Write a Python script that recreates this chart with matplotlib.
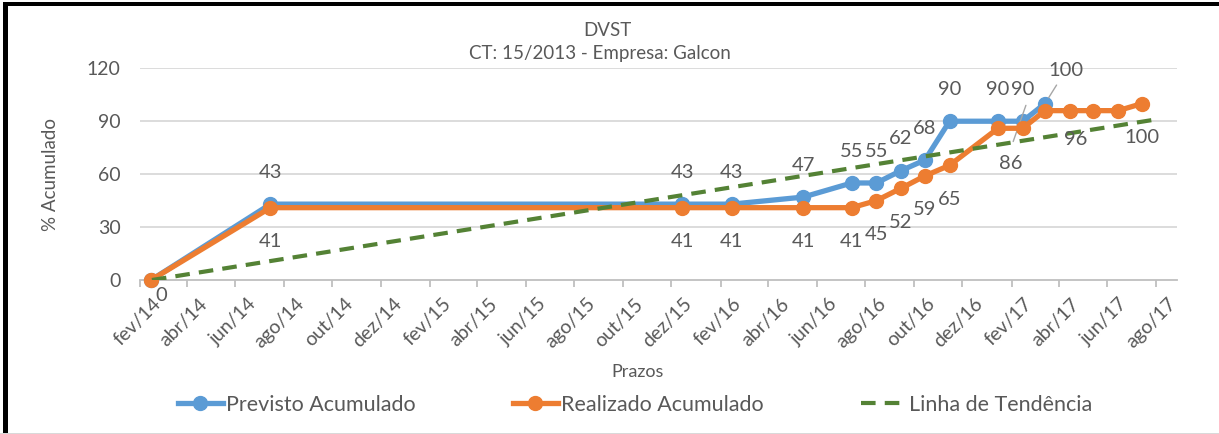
import matplotlib
matplotlib.use("Agg")
import matplotlib.pyplot as plt
import matplotlib.dates as mdates
from matplotlib.patches import Rectangle
import pandas as pd

plt.rcParams["font.family"] = ["Lato", "DejaVu Sans"]

# data
prev_dates = ["2014-02-15", "2014-07-15", "2015-12-15", "2016-02-15", "2016-05-15",
              "2016-07-15", "2016-08-15", "2016-09-15", "2016-10-15", "2016-11-15",
              "2017-01-15", "2017-02-15", "2017-03-15"]
prev_vals = [0, 43, 43, 43, 47, 55, 55, 62, 68, 90, 90, 90, 100]

real_dates = ["2014-02-15", "2014-07-15", "2015-12-15", "2016-02-15", "2016-05-15",
              "2016-07-15", "2016-08-15", "2016-09-15", "2016-10-15", "2016-11-15",
              "2017-01-15", "2017-02-15", "2017-03-15", "2017-04-15", "2017-05-15",
              "2017-06-15", "2017-07-15"]
real_vals = [0, 41, 41, 41, 41, 41, 45, 52, 59, 65, 86, 86, 96, 96, 96, 96, 100]

trend_dates = ["2014-02-16", "2017-08-07"]
trend_vals = [0, 91.4]

tick_labels = ["fev/14", "abr/14", "jun/14", "ago/14", "out/14", "dez/14",
               "fev/15", "abr/15", "jun/15", "ago/15", "out/15", "dez/15",
               "fev/16", "abr/16", "jun/16", "ago/16", "out/16", "dez/16",
               "fev/17", "abr/17", "jun/17", "ago/17"]

BLUE = "#5B9BD5"
ORANGE = "#ED7D31"
GREEN = "#548235"
TXT = "#595959"
GRID = "#D9D9D9"

fig = plt.figure(figsize=(12.19, 4.34), dpi=100)
ax = fig.add_axes([140 / 1219, 1 - 280 / 434, (1177 - 140) / 1219, (280 - 68.3) / 434])

xp = mdates.datestr2num(prev_dates)
xr = mdates.datestr2num(real_dates)
xt = mdates.datestr2num(trend_dates)

l1, = ax.plot(xp, prev_vals, color=BLUE, lw=3.8, marker="o", ms=10, clip_on=False, zorder=3)
l2, = ax.plot(xr, real_vals, color=ORANGE, lw=3.8, marker="o", ms=10, clip_on=False, zorder=4)
l3, = ax.plot(xt, trend_vals, color=GREEN, lw=3, dashes=(3.5, 2.2), zorder=5)

# axes
ax.set_ylim(0, 120)
ax.set_yticks([0, 30, 60, 90, 120])
ax.set_xlim(mdates.datestr2num("2014-02-01"), mdates.datestr2num("2017-08-28"))
for v in [30, 60, 90, 120]:
    ax.axhline(v, color=GRID, lw=1.3, zorder=0)
for s in ["top", "right", "left"]:
    ax.spines[s].set_visible(False)
ax.spines["bottom"].set_color("#BFBFBF")
ax.spines["bottom"].set_linewidth(1.3)
ax.tick_params(axis="y", length=0, pad=14, labelsize=14, labelcolor=TXT)

starts = pd.date_range("2014-02-01", "2017-08-01", freq="2MS")
mids = starts + pd.Timedelta(days=15)
ax.set_xticks(mdates.date2num(mids))
ax.set_xticklabels(tick_labels, rotation=45, ha="right", va="top",
                   rotation_mode="anchor", fontsize=14, color=TXT)
ax.tick_params(axis="x", which="major", length=0, pad=11)
ax.set_xticks(mdates.date2num(starts), minor=True)
ax.tick_params(axis="x", which="minor", length=5, width=1.3, color="#BFBFBF")

ax.set_ylabel("% Acumulado", fontsize=13.5, color=TXT, labelpad=20)
fig.text(638 / 1219, 1 - 372 / 434, "Prazos", ha="center", va="center", fontsize=13, color=TXT)

fig.text(607 / 1219, 1 - 31 / 434, "DVST", ha="center", va="center", fontsize=13.5, color=TXT)
fig.text(600 / 1219, 1 - 53 / 434, "CT: 15/2013 - Empresa: Galcon", ha="center", va="center",
         fontsize=13.5, color=TXT)

# data labels
lab_kw = dict(textcoords="offset points", ha="center", va="center", fontsize=14.5,
              color=TXT, zorder=6)
leader = dict(arrowstyle="-", color="#A6A6A6", lw=1, shrinkA=3, shrinkB=5)

prev_special = {12: (15, 24)}
for i, (x, v) in enumerate(zip(xp, prev_vals)):
    if i == 0:
        continue
    off = prev_special.get(i, (0, 23))
    kw = dict(arrowprops=leader) if i in prev_special else {}
    ax.annotate(str(v), (x, v), xytext=off, annotation_clip=False, **lab_kw, **kw)

real_skip = {10, 12, 14, 15}
real_special = {0: (7, -11), 11: (-8.5, -25), 13: (4, -21)}
for i, (x, v) in enumerate(zip(xr, real_vals)):
    if i in real_skip:
        continue
    off = real_special.get(i, (0, -24.5))
    ax.annotate(str(v), (x, v), xytext=off, annotation_clip=False, **lab_kw)

# leader line of the moved 86 label
ax.annotate("", xy=(mdates.datestr2num("2017-02-19"), 99),
            xytext=(mdates.datestr2num("2017-02-03"), 78.5),
            arrowprops=dict(arrowstyle="-", color="#A6A6A6", lw=1, shrinkA=0, shrinkB=0))

fig.legend([l1, l2, l3], ["Previsto Acumulado", "Realizado Acumulado", "Linha de Tendência"],
           loc="center", bbox_to_anchor=(635 / 1219, 1 - 405 / 434), ncol=3, frameon=False,
           fontsize=15.5, handlelength=2.1, handletextpad=0.15, columnspacing=4.5,
           labelcolor=TXT)

# outer frame
fig.add_artist(Rectangle((3 / 1219, 1 - 6 / 434), 1 - 3 / 1219, 4 / 434,
                         transform=fig.transFigure, color="black", lw=0))
fig.add_artist(Rectangle((3 / 1219, 0), 5 / 1219, 1 - 2 / 434,
                         transform=fig.transFigure, color="black", lw=0))
fig.add_artist(Rectangle((0, 0), 1, 1.5 / 434, transform=fig.transFigure,
                         color="#D9D9D9", lw=0))

fig.savefig("out.png", dpi=100)
